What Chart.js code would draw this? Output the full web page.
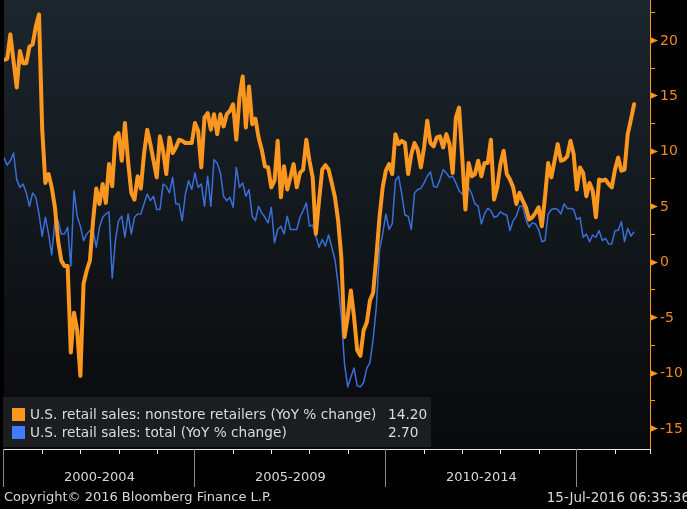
<!DOCTYPE html>
<html>
<head>
<meta charset="utf-8">
<script src="https://cdn.jsdelivr.net/npm/chart.js@4.4.1/dist/chart.umd.min.js"></script>
<style>
  html, body { margin: 0; padding: 0; background: #000; }
  #chart { display: block; }
</style>
</head>
<body>
<canvas id="chart" width="687" height="509"></canvas>
<script>
// monthly YoY % change, Jan 2000 onwards
var nonstore = [
  18.2, 18.3, 20.5, 18.1, 15.7, 19.0, 17.9, 17.9, 19.4, 19.6, 21.2, 22.3,
  12.0, 7.1, 7.9, 6.7, 4.9, 1.9, 0.1, -0.4, -0.4, -8.2, -4.6, -6.2,
  -10.3, -2.0, -0.8, 0.1, 3.7, 6.6, 5.2, 7.0, 5.3, 8.8, 6.8, 11.2,
  11.6, 9.1, 12.5, 9.0, 6.2, 5.6, 7.7, 6.6, 9.7, 11.9, 10.6, 9.1,
  7.6, 11.3, 10.0, 7.9, 11.2, 9.8, 10.3, 11.0, 10.9, 10.7, 10.7, 10.7,
  12.5, 11.8, 8.5, 13.0, 13.4, 11.9, 13.3, 11.5, 13.3, 12.2, 13.3, 13.6,
  14.2, 11.0, 14.8, 16.7, 12.1, 15.8, 12.4, 12.9, 11.2, 10.1, 8.6, 8.5,
  6.7, 7.3, 10.9, 5.8, 8.6, 6.5, 7.6, 8.8, 6.7, 8.0, 8.3, 11.0,
  9.1, 7.6, 2.5, 5.5, 8.3, 8.7, 8.3, 7.1, 5.8, 3.7, 0.4, -6.8,
  -5.0, -2.6, -5.0, -8.0, -8.5, -6.2, -5.5, -3.5, -2.8, 0.4, 4.0, 6.7,
  8.2, 8.8, 7.9, 11.5, 10.6, 10.9, 10.7, 7.9, 9.7, 10.7, 10.1, 8.5,
  10.3, 12.7, 10.7, 10.4, 11.2, 11.3, 10.3, 11.5, 10.6, 8.0, 13.0, 13.9,
  9.4, 4.7, 8.9, 7.7, 7.9, 9.1, 7.7, 8.9, 8.9, 11.0, 5.6, 6.7,
  8.8, 10.0, 7.9, 7.4, 6.7, 5.2, 6.2, 5.5, 4.9, 3.8, 4.0, 4.4,
  4.9, 3.2, 5.8, 8.9, 7.6, 9.1, 10.6, 9.1, 9.2, 9.5, 10.9, 9.7,
  6.5, 8.5, 8.0, 5.9, 7.1, 6.4, 4.0, 7.4, 7.3, 7.4, 7.0, 6.7,
  8.3, 9.4, 8.2, 8.3, 11.5, 12.8, 14.2
];
var total = [
  9.4, 8.7, 9.1, 9.8, 7.4, 6.7, 7.0, 6.2, 5.0, 6.2, 5.8, 4.3,
  2.3, 4.0, 2.5, 0.6, 3.7, 3.7, 2.5, 2.5, 3.1, -0.4, 6.4, 4.1,
  3.2, 1.9, 2.5, 2.8, 2.8, 1.3, 3.1, 4.0, 4.3, 4.5, -1.5, 1.9,
  3.7, 4.1, 2.2, 4.3, 2.5, 4.0, 4.3, 4.3, 5.2, 6.1, 5.5, 5.9,
  4.7, 4.7, 7.0, 6.8, 6.2, 7.6, 5.2, 5.2, 3.7, 6.1, 7.3, 6.5,
  8.0, 6.7, 7.0, 5.0, 7.7, 5.0, 9.2, 8.9, 8.0, 5.9, 5.5, 5.8,
  4.9, 8.5, 6.7, 7.1, 5.9, 6.5, 4.1, 3.7, 5.0, 4.4, 4.0, 3.5,
  4.9, 1.7, 2.9, 3.2, 2.5, 4.1, 2.9, 2.9, 2.9, 4.0, 4.6, 5.3,
  3.2, 3.3, 2.3, 1.3, 2.0, 1.4, 2.4, 1.3, 0.2, -2.0, -5.0, -9.2,
  -11.3, -10.4, -9.6, -11.2, -11.3, -10.9, -9.6, -9.1, -7.0, -4.1, 1.0, 2.5,
  4.3, 2.9, 3.4, 7.3, 7.7, 6.1, 4.2, 4.1, 2.9, 6.2, 6.5, 6.6,
  7.1, 7.7, 8.1, 6.8, 6.7, 7.4, 8.3, 8.0, 7.6, 7.7, 7.1, 6.4,
  6.1, 6.2, 6.7, 6.1, 5.2, 5.0, 3.4, 4.3, 4.8, 4.6, 4.0, 4.1,
  4.5, 4.3, 4.2, 2.8, 3.7, 4.1, 5.0, 5.0, 3.8, 3.1, 3.5, 3.4,
  2.9, 1.8, 1.9, 4.3, 4.7, 4.8, 4.7, 4.3, 5.2, 4.8, 4.8, 4.7,
  3.8, 4.0, 2.2, 2.5, 1.8, 2.4, 2.2, 2.8, 1.9, 2.1, 1.6, 1.6,
  2.8, 2.8, 3.6, 1.8, 3.0, 2.3, 2.7
];
var seriesNames = [
  'U.S. retail sales: nonstore retailers (YoY % change)',
  'U.S. retail sales: total (YoY % change)'
];
var lastValues = ['14.20', '2.70'];
var periodLabels = ['2000-2004', '2005-2009', '2010-2014'];
var yTicks = [20, 15, 10, 5, 0, -5, -10, -15];

var ORANGE = '#fb961f';
var BLUE = '#3a6fd8';
var FONT = '"DejaVu Sans", sans-serif';

function toPoints(arr) {
  return arr.map(function (v, i) { return { x: i, y: v }; });
}

var bbgDeco = {
  id: 'bbgDeco',
  beforeDraw: function (chart) {
    var ctx = chart.ctx, a = chart.chartArea;
    ctx.save();
    ctx.fillStyle = '#000';
    ctx.fillRect(0, 0, chart.width, chart.height);
    var g = ctx.createLinearGradient(0, a.top, 0, a.bottom);
    g.addColorStop(0, '#1c262d');
    g.addColorStop(1, '#08090b');
    ctx.fillStyle = g;
    ctx.fillRect(a.left, a.top, a.right - a.left, a.bottom - a.top);
    ctx.restore();
  },
  afterDraw: function (chart) {
    var ctx = chart.ctx, a = chart.chartArea;
    var xs = chart.scales.x, ys = chart.scales.y;
    ctx.save();

    // right value axis
    ctx.strokeStyle = ORANGE;
    ctx.fillStyle = ORANGE;
    ctx.lineWidth = 1;
    ctx.beginPath();
    ctx.moveTo(a.right + 0.5, 0);
    ctx.lineTo(a.right + 0.5, a.bottom);
    ctx.stroke();
    for (var v = -15; v <= 22.5; v += 2.5) {
      var py = Math.round(ys.getPixelForValue(v)) + 0.5;
      if (v % 5 === 0) {
        ctx.beginPath();
        ctx.moveTo(a.right, py - 3.5);
        ctx.lineTo(a.right + 8, py);
        ctx.lineTo(a.right, py + 3.5);
        ctx.closePath();
        ctx.fill();
      } else {
        ctx.beginPath();
        ctx.moveTo(a.right, py);
        ctx.lineTo(a.right + 5, py);
        ctx.stroke();
      }
    }
    ctx.font = '14px ' + FONT;
    ctx.textBaseline = 'middle';
    ctx.textAlign = 'left';
    ctx.fillStyle = '#ec8a1c';
    yTicks.forEach(function (t) {
      ctx.fillText(String(t), a.right + 10, ys.getPixelForValue(t) + 1);
    });

    // time axis
    ctx.strokeStyle = '#e8e8e8';
    ctx.beginPath();
    ctx.moveTo(a.left - 1, a.bottom + 0.5);
    ctx.lineTo(a.right + 1, a.bottom + 0.5);
    ctx.stroke();
    for (var m = 12; m <= 192; m += 12) {
      if (m % 60 === 0) continue;
      var px = Math.round(xs.getPixelForValue(m)) + 0.5;
      ctx.beginPath();
      ctx.moveTo(px, a.bottom);
      ctx.lineTo(px, a.bottom + 5);
      ctx.stroke();
    }
    ctx.beginPath();
    ctx.moveTo(a.right + 0.5, a.bottom);
    ctx.lineTo(a.right + 0.5, a.bottom + 5);
    ctx.stroke();
    ctx.strokeStyle = '#8a8a8a';
    for (var d = 0; d <= 180; d += 60) {
      var dx = Math.round(xs.getPixelForValue(d)) - 0.5;
      ctx.beginPath();
      ctx.moveTo(dx, a.bottom);
      ctx.lineTo(dx, a.bottom + 38);
      ctx.stroke();
    }
    ctx.font = '13px ' + FONT;
    ctx.textAlign = 'center';
    ctx.fillStyle = '#d4d8e0';
    periodLabels.forEach(function (lbl, i) {
      ctx.fillText(lbl, xs.getPixelForValue(i * 60 + 30), a.bottom + 29);
    });

    // footer
    ctx.textAlign = 'left';
    ctx.fillText('Copyright\u00a9 2016 Bloomberg Finance L.P.', 4, 498);
    ctx.font = '13.5px ' + FONT;
    ctx.textAlign = 'right';
    ctx.fillText('15-Jul-2016 06:35:36', chart.width + 3, 498);

    // legend box
    ctx.fillStyle = 'rgba(30,32,34,0.92)';
    ctx.fillRect(3, 397, 428, 50);
    var colors = [ORANGE, '#3f7cff'];
    ctx.font = '13.7px ' + FONT;
    ctx.textAlign = 'left';
    for (var i = 0; i < 2; i++) {
      var ly = 414 + i * 18;
      ctx.fillStyle = colors[i];
      ctx.fillRect(12, ly - 6, 13, 13);
      ctx.fillStyle = '#dcdcdc';
      ctx.fillText(seriesNames[i], 30, ly + 1);
      ctx.fillText(lastValues[i], 388, ly + 1);
    }
    ctx.restore();
  }
};

var ctx = document.getElementById('chart').getContext('2d');
new Chart(ctx, {
  type: 'line',
  data: {
    datasets: [
      {
        label: seriesNames[0],
        data: toPoints(nonstore),
        borderColor: ORANGE,
        borderWidth: 4,
        borderJoinStyle: 'round',
        borderCapStyle: 'round',
        pointRadius: 0,
        tension: 0,
        fill: false
      },
      {
        label: seriesNames[1],
        data: toPoints(total),
        borderColor: BLUE,
        borderWidth: 1.5,
        borderJoinStyle: 'round',
        pointRadius: 0,
        tension: 0,
        fill: false
      }
    ]
  },
  options: {
    responsive: false,
    animation: false,
    layout: { padding: { left: 4, top: 0, right: 0, bottom: 0 } },
    plugins: {
      legend: { display: false },
      tooltip: { enabled: false }
    },
    scales: {
      x: {
        type: 'linear',
        min: 0,
        max: 203,
        grid: { display: false },
        border: { display: false },
        ticks: { display: false },
        afterFit: function (s) { s.height = 60; }
      },
      y: {
        position: 'right',
        min: -16.9,
        max: 23.6,
        grid: { display: false },
        border: { display: false },
        ticks: { display: false },
        afterFit: function (s) { s.width = 37; }
      }
    }
  },
  plugins: [bbgDeco]
});
</script>
</body>
</html>
